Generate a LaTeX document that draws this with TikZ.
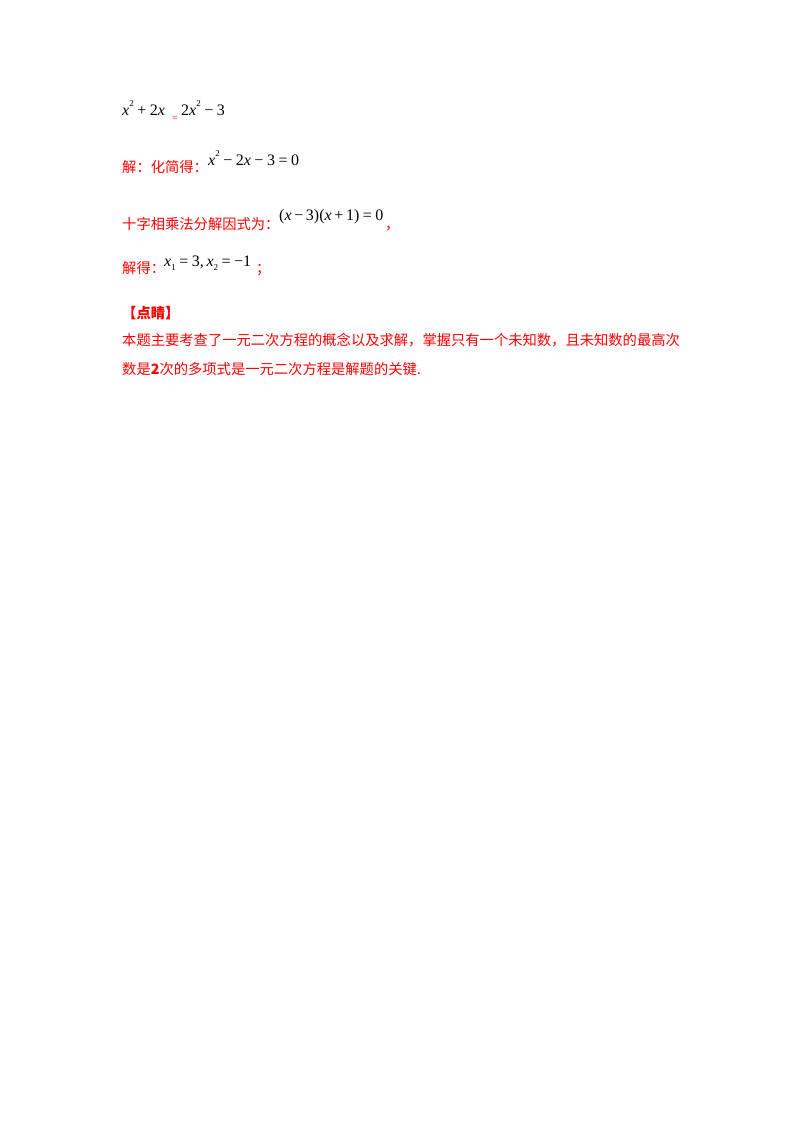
\documentclass[tikz,border=0pt]{standalone}
\usepackage{fontspec}
\newfontfamily\cjk{Noto Sans CJK SC}
\setmainfont{Liberation Serif}
\definecolor{tred}{RGB}{255,0,0}
\newcommand{\vx}{\textit{x}}
\newcommand{\sq}{\raisebox{0.55em}{\fontsize{9}{9}\selectfont 2}}
\newcommand{\op}[1]{\hspace{0.22em}#1\hspace{0.22em}}
\begin{document}
\begin{tikzpicture}[x=1pt,y=-1pt,
  cn/.style={anchor=base west,inner sep=0pt,text=tred,font=\cjk\fontsize{14.3}{16}\selectfont},
  mt/.style={anchor=base west,inner sep=0pt,font=\fontsize{16}{18}\selectfont}]
\useasboundingbox[fill=white] (0,0) rectangle (800,1132);
\node[mt] (e1) at (122,115) {\vx\sq\op{+}2\vx};
\node[anchor=base west,inner sep=0pt,text=tred,font=\fontsize{10}{12}\selectfont] (eq) at (172,121) {=};
\node[mt] (e1b) at (181,115) {2\vx\sq\op{−}3};
\node[cn] (l2) at (122,172) {解：化简得：};
\node[mt] (m2) at (208,165) {\vx\sq\op{−}2\vx\op{−}3\op{=}0};
\node[cn] (l3) at (122,229) {十字相乘法分解因式为：};
\node[mt] (m3) at (279,220) {(\vx\,−\,3)(\vx\,+\,1)\op{=}0};
\node[cn] (c3) at (385,229) {，};
\node[cn] (l4) at (122,273) {解得：};
\node[mt] (m4) at (164,266) {\vx\raisebox{-0.25em}{\fontsize{9}{9}\selectfont 1}\op{=}3,\,\vx\raisebox{-0.25em}{\fontsize{9}{9}\selectfont 2}\op{=}−1};
\node[cn] (c4) at (256,273) {；};
\node[cn,font=\cjk\bfseries\fontsize{14.3}{16}\selectfont] (h) at (122,318) {【点睛】};
\node[cn] (p1) at (122,345) {本题主要考查了一元二次方程的概念以及求解，掌握只有一个未知数，且未知数的最高次};
\node[cn] (p2) at (122,374) {数是\textbf{2}次的多项式是一元二次方程是解题的关键.};
\end{tikzpicture}
\end{document}
